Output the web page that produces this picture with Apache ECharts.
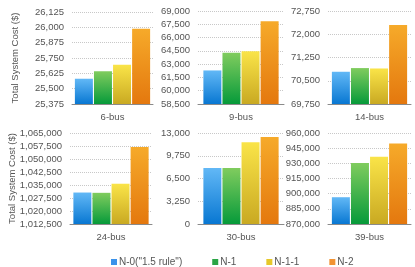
<!DOCTYPE html>
<html><head><meta charset="utf-8">
<script src="https://cdn.jsdelivr.net/npm/echarts@6/dist/echarts.min.js"></script>
<style>html,body{margin:0;padding:0;background:#fff}#c{width:415px;height:267px}</style>
</head><body><div id="c"></div>
<script>
const categories = ['6-bus','9-bus','14-bus','24-bus','30-bus','39-bus'];
const seriesNames = ['N-0("1.5 rule")','N-1','N-1-1','N-2'];
const n0  = [25581, 62290, 70790, 1030658, 7998, 896500];
const n1  = [25642, 64274, 70909, 1030490, 7990, 930400];
const n11 = [25695, 64466, 70896, 1035733, 11672, 936570];
const n2  = [25989, 67846, 72300, 1056936, 12435, 949500];
const yMin = [25375, 58500, 69750, 1012500, 0, 870000];
const yMax = [26125, 69000, 72750, 1065000, 13000, 960000];
const yInterval = [125, 1500, 750, 7500, 3250, 15000];
const values = [n0, n1, n11, n2];

const grads = [
  ['#62b8f6', '#0877d2'],
  ['#80cc5e', '#069a3a'],
  ['#fae448', '#c9a922'],
  ['#f6aa2a', '#e4780e']
];
const legendColors = ['#3a92ea', '#2aa545', '#e6c82a', '#f29333'];
function grad(i){
  return new echarts.graphic.LinearGradient(0,0,0,1,[{offset:0,color:grads[i][0]},{offset:1,color:grads[i][1]}]);
}
const gridPos = [
  {left:72, top:12, width:81, height:92},
  {left:198, top:11, width:86, height:93},
  {left:328, top:11, width:83, height:93},
  {left:70, top:133, width:82, height:91},
  {left:198, top:133, width:86, height:91},
  {left:328, top:133, width:83, height:91}
];
const font = 'Liberation Sans, Helvetica, Arial, sans-serif';
const grids=[], xAxes=[], yAxes=[], series=[];
categories.forEach((cat, g) => {
  grids.push(Object.assign({containLabel:false}, gridPos[g]));
  xAxes.push({
    type:'category', gridIndex:g, data:[cat],
    axisLine:{show:true, lineStyle:{color:'#8a8a8a', width:1}},
    axisTick:{show:false},
    axisLabel:{color:'#555', fontSize:9.5, fontFamily:font, margin:8}
  });
  yAxes.push({
    type:'value', gridIndex:g, min:yMin[g], max:yMax[g], interval:yInterval[g],
    name: (g===0||g===3) ? 'Total System Cost ($)' : '',
    nameLocation:'middle', nameGap: g===0 ? 52 : 53,
    nameMoveOverlap:false,
    nameTextStyle:{color:'#555', fontSize:9.5, fontFamily:font},
    axisLine:{show:false}, axisTick:{show:false},
    axisLabel:{color:'#555', fontSize:9.5, fontFamily:font, margin:8,
      formatter:v=>Number(v).toLocaleString('en-US')},
    splitLine:{show:true, lineStyle:{color:'#c8c8c8', type:[1,1], width:1}}
  });
  values.forEach((arr, s) => {
    series.push({
      type:'bar', name:seriesNames[s], xAxisIndex:g, yAxisIndex:g,
      data:[arr[g]], barWidth:18, barGap:'6%',
      itemStyle:{color:grad(s)},
      emphasis:{disabled:true}, animation:false
    });
  });
});
const chart = echarts.init(document.getElementById('c'), null, {renderer:'canvas'});
chart.setOption({
  animation:false,
  grid:grids, xAxis:xAxes, yAxis:yAxes, series:series,
  legend:{
    top:252, left:106, itemWidth:6, itemHeight:6, itemGap:30,
    icon:'rect',
    textStyle:{color:'#555', fontSize:10, fontFamily:font, padding:[0,0,0,-3]},
    data: seriesNames.map((n,i)=>({name:n, itemStyle:{color:legendColors[i]}}))
  }
});
</script></body></html>
